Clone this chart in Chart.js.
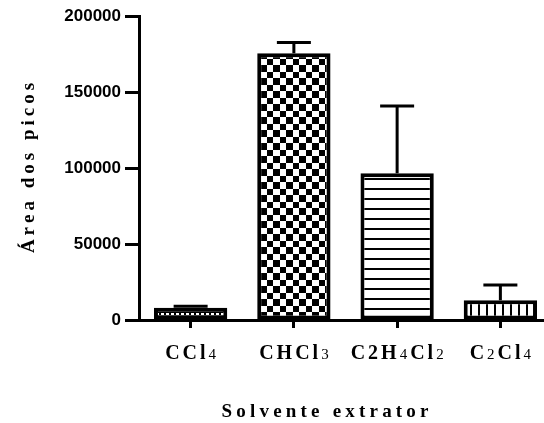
<!DOCTYPE html>
<html>
<head>
<meta charset="utf-8">
<script src="https://cdn.jsdelivr.net/npm/chart.js@4"></script>
<style>
  html, body { margin: 0; padding: 0; overflow: hidden; background: #fff; }
  #wrap { width: 552px; height: 423px; }
</style>
</head>
<body>
<div id="wrap"><canvas id="chart" width="552" height="423"></canvas></div>
<script>
// Dados do gráfico ('_' marca o caractere seguinte como subscrito)
const categories = ['CCl_4', 'CHCl_3', 'C2H_4Cl_2', 'C_2Cl_4'];
const means = [8000, 175500, 96500, 13000];
const errors = [1000, 7000, 44300, 10000];
const yTicks = [0, 50000, 100000, 150000, 200000];
const yTitle = 'Área dos picos';
const xTitle = 'Solvente extrator';

// Padrões de preenchimento
function makePattern(w, h, draw) {
    const c = document.createElement('canvas');
    c.width = w; c.height = h;
    const g = c.getContext('2d');
    g.fillStyle = '#fff'; g.fillRect(0, 0, w, h);
    g.fillStyle = '#000';
    draw(g);
    return document.getElementById('chart').getContext('2d').createPattern(c, 'repeat');
}
const patterns = [
    makePattern(5, 4, g => { g.fillRect(0, 0, 5, 4); g.fillStyle = '#fff'; g.fillRect(1, 1, 3, 2); }),
    makePattern(13, 13, g => { g.fillRect(0, 0, 7, 7); g.fillRect(7, 7, 6, 6); }),
    makePattern(4, 10, g => { g.fillRect(0, 8, 4, 2); }),
    makePattern(8, 4, g => { g.fillRect(6, 0, 2, 4); })
];

const serif = '"Liberation Serif", "Times New Roman", serif';

// Desenha texto caractere a caractere com espaçamento extra
function spacedWidth(ctx, parts, spacing) {
    let w = 0;
    parts.forEach((p, i) => {
        ctx.font = p.font;
        p.w = ctx.measureText(p.t).width;
        w += p.w + (i < parts.length - 1 ? spacing : 0);
    });
    return w;
}
function drawSpaced(ctx, parts, cx, baseline, spacing) {
    const total = spacedWidth(ctx, parts, spacing);
    let x = cx - total / 2;
    parts.forEach(p => {
        ctx.font = p.font;
        ctx.fillText(p.t, x, baseline);
        x += p.w + spacing;
    });
}
function formulaParts(str) {
    const parts = [];
    for (let i = 0; i < str.length; i++) {
        if (str[i] === '_') parts.push({ t: str[++i], font: '15px ' + serif });
        else parts.push({ t: str[i], font: 'bold 20px ' + serif });
    }
    return parts;
}
const plainParts = str => str.split('').map(ch => ({ t: ch, font: 'bold 19px ' + serif }));

const errorBars = {
    id: 'errorBars',
    afterDatasetsDraw(chart) {
        const { ctx, scales: { y } } = chart;
        const meta = chart.getDatasetMeta(0);
        ctx.save();
        ctx.strokeStyle = '#000';
        ctx.lineWidth = 3;
        meta.data.forEach((bar, i) => {
            const top = y.getPixelForValue(means[i] + errors[i]);
            const base = y.getPixelForValue(means[i]);
            ctx.beginPath();
            ctx.moveTo(bar.x, base);
            ctx.lineTo(bar.x, top);
            ctx.moveTo(bar.x - 17, top);
            ctx.lineTo(bar.x + 17, top);
            ctx.stroke();
        });
        ctx.restore();
    }
};

const textLabels = {
    id: 'textLabels',
    afterDraw(chart) {
        const { ctx, scales: { x, y } } = chart;
        ctx.save();
        ctx.fillStyle = '#000';
        ctx.textBaseline = 'alphabetic';
        ctx.textAlign = 'left';
        categories.forEach((c, i) => {
            drawSpaced(ctx, formulaParts(c), x.getPixelForValue(i), 359, 3);
        });
        drawSpaced(ctx, plainParts(xTitle), 325, 417, 4.2);
        ctx.translate(34, (y.top + y.bottom) / 2);
        ctx.rotate(-Math.PI / 2);
        drawSpaced(ctx, plainParts(yTitle), 0, 0, 4);
        ctx.restore();
    }
};

new Chart(document.getElementById('chart'), {
    type: 'bar',
    data: {
        labels: categories,
        datasets: [{
            data: means,
            backgroundColor: patterns,
            borderColor: '#000',
            borderWidth: 4,
            borderSkipped: false,
            barPercentage: 0.71,
            categoryPercentage: 1
        }]
    },
    options: {
        responsive: false,
        animation: false,
        devicePixelRatio: 1,
        layout: { padding: { top: 16, right: 0, left: 0, bottom: 0 } },
        plugins: { legend: { display: false }, tooltip: { enabled: false } },
        scales: {
            x: {
                offset: true,
                grid: { offset: false, drawOnChartArea: false, tickLength: 8, tickWidth: 3, tickColor: '#000' },
                border: { color: '#000', width: 3 },
                ticks: { callback: () => '' },
                afterFit: s => { s.height = 103; }
            },
            y: {
                min: 0,
                max: 200000,
                afterBuildTicks: s => { s.ticks = yTicks.map(v => ({ value: v })); },
                grid: { drawOnChartArea: false, tickLength: 14, tickWidth: 3, tickColor: '#000' },
                border: { color: '#000', width: 3 },
                ticks: {
                    color: '#000',
                    padding: 4,
                    font: { family: '"Liberation Sans", Arial, sans-serif', size: 17, weight: 'bold' },
                    callback: v => String(v)
                },
                afterFit: s => { s.width = 139; }
            }
        }
    },
    plugins: [errorBars, textLabels]
});
</script>
</body>
</html>
